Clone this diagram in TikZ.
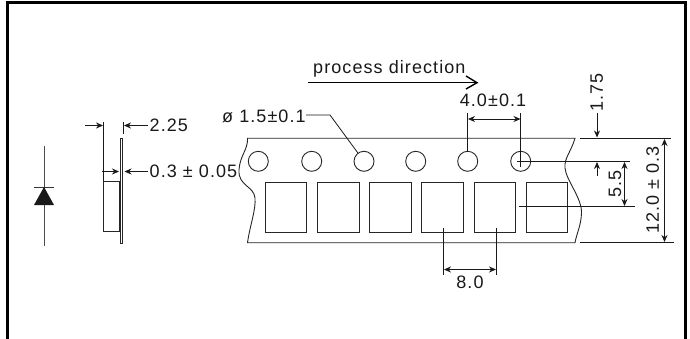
\documentclass[tikz,border=0pt]{standalone}
\usepackage{fontspec}
\setmainfont[LetterSpace=6]{Liberation Sans}
\usetikzlibrary{arrows.meta}
\tikzset{
 x=1pt,y=-1pt,
 frameline/.style={line width=3pt,black},
 part/.style={line width=0.9pt,draw=black!85},
 dimline/.style={line width=0.8pt,draw=black!90},
 arr/.style={dimline,-{Stealth[length=7pt,width=6pt]}},
 arrb/.style={dimline,{Stealth[length=7pt,width=6pt]}-{Stealth[length=7pt,width=6pt]}},
 lab/.style={inner sep=0pt,font=\fontsize{18}{20}\selectfont,text=black!90},
 hole/.style={circle,part,minimum size=20pt,inner sep=0pt},
 pocket/.style={rectangle,part,minimum width=41.5pt,minimum height=49.5pt,inner sep=0pt},
}
\begin{document}
\begin{tikzpicture}
\useasboundingbox (0,0) rectangle (690,339);
\fill[white] (0,0) rectangle (690,339);
\draw[frameline] (7,339) -- (7,2.5) -- (685,2.5) -- (685,339);
% diode
\coordinate (da) at (44,146); \coordinate (db) at (44,246);
\draw[line width=0.8pt,black!70] (da) -- (db);
\draw[line width=0.8pt,black!80] (34,187) -- (54,187);
\fill[black!90] (44,187) -- (54,205) -- (34,205) -- cycle;
% side view
\draw[part] (103.5,181.5) rectangle (120,231);
\draw[part,fill=white] (120,138) rectangle (122.5,243);
\draw[line width=1.6pt,black!85] (120,182) -- (120,231);
\draw[dimline] (103.5,122) -- (103.5,181);
\draw[dimline] (123,122) -- (123,134);
\coordinate (a1) at (85,125.5); \coordinate (a1e) at (103,125.5);
\draw[arr] (a1) -- (a1e);
\coordinate (a2) at (148,125.5); \coordinate (a2e) at (124,125.5);
\draw[arr] (a2) -- (a2e);
\node[lab,anchor=west] (t225) at (149.5,125) {2.25};
\coordinate (a3) at (102,171.5); \coordinate (a3e) at (119,171.5);
\draw[arr] (a3) -- (a3e);
\coordinate (a4) at (148,171.5); \coordinate (a4e) at (124.5,171.5);
\draw[arr] (a4) -- (a4e);
\node[lab,anchor=west] (t03) at (149.5,171.5) {0.3 ± 0.05};
% tape
\draw[part] (247.5,138.3) -- (575,138.3)
 .. controls (571,152) and (564,158) .. (565,168)
 .. controls (566,180) and (582,198) .. (581.5,213)
 .. controls (581,226) and (577,232) .. (575,242.7)
 -- (247.5,242.7)
 .. controls (250,225) and (256,210) .. (255,198)
 .. controls (254,186) and (238,186) .. (239,170)
 .. controls (240,155) and (248,150) .. (247.5,138.3) -- cycle;
\foreach \n/\x in {1/258.3,2/311.7,3/364,4/415.7,5/467.7,6/520.7}
  \node[hole] (h\n) at (\x,161.3) {};
\foreach \n/\x in {1/285.8,2/338.2,3/390.2,4/442.3,5/494.7,6/547}
  \node[pocket] (p\n) at (\x,207.3) {};
% process direction
\node[lab,anchor=base west] (tp) at (313,74) {process direction};
\coordinate (pa) at (308,82.7); \coordinate (pb) at (477,82.7);
\draw[line width=0.9pt] (pa) -- (pb);
\draw[line width=1.4pt,line join=miter] (466,76) -- (477,82.7) -- (466,89);
% hole label
\node[lab,anchor=west] (td) at (222,116.5) {ø 1.5±0.1};
\coordinate (l1) at (306,115); \coordinate (l2) at (330,115);
\draw[dimline] (l1) -- (l2) -- (h3);
% 4.0
\node[lab,anchor=base] (t4) at (493,106.7) {4.0±0.1};
\coordinate (u1) at (467.7,113); \coordinate (u2) at (520.7,113);
\draw[dimline] (u1) -- (467.7,152);
\draw[dimline] (u2) -- (520.7,167);
\coordinate (v1) at (468,119); \coordinate (v2) at (520.5,119);
\draw[arrb] (v1) -- (v2);
% right dims
\draw[dimline] (517,161) -- (630,161);
\draw[dimline] (519,206.5) -- (635,206.5);
\coordinate (ra) at (580,138); \coordinate (rb) at (671,138);
\draw[dimline] (ra) -- (rb);
\coordinate (rc) at (580,242.7); \coordinate (rd) at (674,242.7);
\draw[dimline] (rc) -- (rd);
\coordinate (f1) at (597,113); \coordinate (f1e) at (597,137.5);
\draw[arr] (f1) -- (f1e);
\node[lab,rotate=90,anchor=west] (t175) at (596.7,111.5) {1.75};
\coordinate (f2) at (597,176); \coordinate (f2e) at (597,162);
\draw[arr] (f2) -- (f2e);
\coordinate (g1) at (624.5,162); \coordinate (g2) at (624.5,206);
\draw[arrb] (g1) -- (g2);
\node[lab,rotate=90] (t55) at (615,184) {5.5};
\coordinate (k1) at (664.5,139); \coordinate (k2) at (664.5,242);
\draw[arrb] (k1) -- (k2);
\node[lab,rotate=90] (t12) at (652.7,190) {12.0 ± 0.3};
% 8.0
\coordinate (b1) at (443.5,228); \coordinate (b2) at (496.5,228);
\draw[dimline] (b1) -- (443.5,275);
\draw[dimline] (b2) -- (496.5,275);
\coordinate (c1) at (444,269.5); \coordinate (c2) at (496,269.5);
\draw[arrb] (c1) -- (c2);
\node[lab,anchor=base] (t8) at (470,288) {8.0};
\end{tikzpicture}
\end{document}
